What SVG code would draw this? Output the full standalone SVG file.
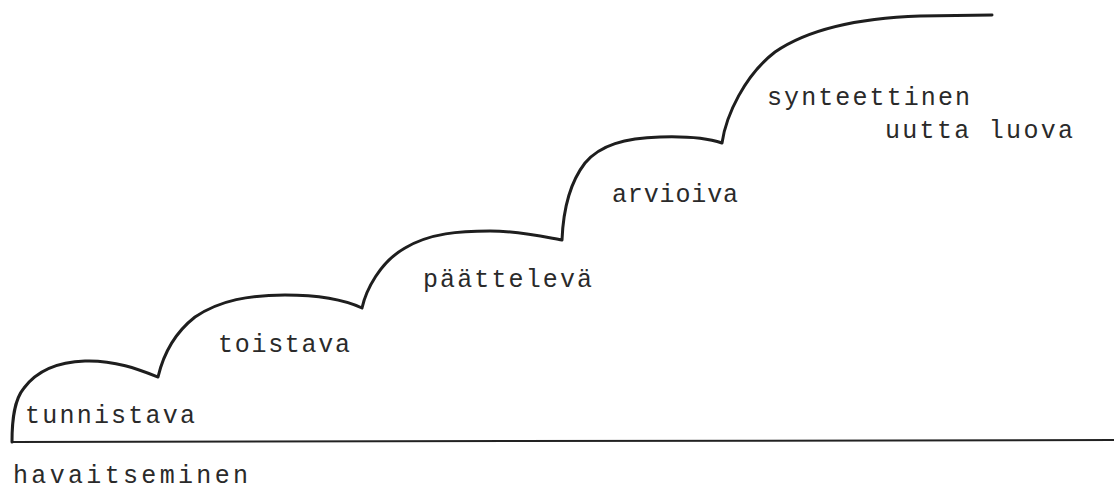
<svg xmlns="http://www.w3.org/2000/svg" width="1114" height="489" viewBox="0 0 1114 489">
<style>
.t{font-family:"Liberation Mono","DejaVu Sans Mono",monospace;font-size:25px;fill:#2a2a2a}
.c{fill:none;stroke:#1e1e1e;stroke-width:3;stroke-linecap:round;stroke-linejoin:round}
.b{fill:none;stroke:#222;stroke-width:2}
</style>
<rect width="1114" height="489" fill="#fff"/>
<g id="baseline">
<path class="b" d="M12,442 L1114,440"/>
</g>
<g id="staircase">
<path class="c" d="M12,442 C12,420 14,400 24,388 C36,372 55,362 85,361 C115,360 140,370 158,377 C162,360 172,335 195,317 C220,300 250,295 285,295 C320,295 345,300 362,308 C366,290 380,262 405,248 C430,233 460,231 490,231 C520,231 545,237 562,240 C563,215 568,185 585,163 C600,145 625,138 660,137 C690,136 710,139 722,143 C726,115 745,75 775,52 C810,28 860,18 920,16 L992,15"/>
</g>
<g id="labels">
<text class="t" x="25" y="423" textLength="170" lengthAdjust="spacing">tunnistava</text>
<text class="t" x="13" y="483" textLength="235" lengthAdjust="spacing">havaitseminen</text>
<text class="t" x="218" y="352" textLength="132" lengthAdjust="spacing">toistava</text>
<text class="t" x="423" y="287" textLength="169" lengthAdjust="spacing">päättelevä</text>
<text class="t" x="612" y="202" textLength="126" lengthAdjust="spacing">arvioiva</text>
<text class="t" x="767" y="105" textLength="203" lengthAdjust="spacing">synteettinen</text>
<text class="t" x="885" y="138" textLength="188" lengthAdjust="spacing">uutta luova</text>
</g>
</svg>
